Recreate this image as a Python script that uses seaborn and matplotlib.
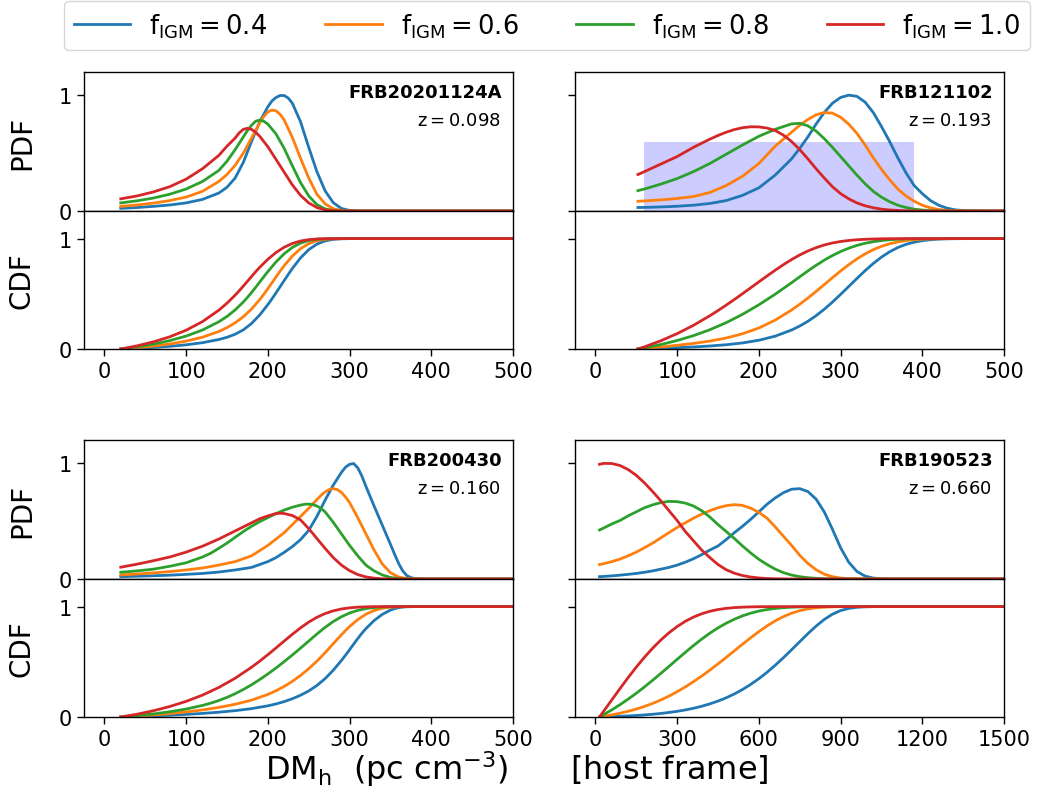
import numpy as np
import matplotlib
matplotlib.use("Agg")
import matplotlib.pyplot as plt
import seaborn as sns

plt.rcParams["mathtext.default"] = "regular"
plt.rcParams["font.family"] = ["DejaVu Sans"]
plt.rcParams["axes.linewidth"] = 1.0

# ---------------------------------------------------------------- data
F_IGM = [0.4, 0.6, 0.8, 1.0]
COLORS = ["#1f77b4", "#ff7f0e", "#2ca02c", "#d62728"]

# FRB20201124A, z = 0.098  (normalised PDF of host DM, one curve per f_IGM)
XA_04 = [20, 40, 60, 80, 100, 120, 140, 150, 160, 170, 180, 190, 200, 205,
         210, 215, 220, 225, 230, 240, 250, 260, 270, 280, 290, 300, 310, 500]
PA_04 = [0.023, 0.03, 0.04, 0.052, 0.07, 0.1, 0.155, 0.205, 0.285, 0.42, 0.6,
         0.77, 0.9, 0.95, 0.98, 0.997, 0.997, 0.975, 0.93, 0.77, 0.55, 0.34,
         0.175, 0.072, 0.022, 0.005, 0.0, 0.0]
XA_06 = [20, 40, 60, 80, 100, 120, 140, 150, 160, 170, 180, 190, 195, 200,
         205, 210, 215, 220, 230, 240, 250, 260, 270, 280, 290, 300, 500]
PA_06 = [0.04, 0.052, 0.068, 0.09, 0.12, 0.17, 0.255, 0.315, 0.395, 0.5, 0.63,
         0.76, 0.815, 0.855, 0.872, 0.865, 0.835, 0.785, 0.635, 0.455, 0.285,
         0.145, 0.062, 0.02, 0.004, 0.0, 0.0]
XA_08 = [20, 40, 60, 80, 100, 120, 140, 150, 160, 170, 175, 180, 185, 190,
         195, 200, 210, 220, 230, 240, 250, 260, 270, 280, 290, 500]
PA_08 = [0.07, 0.088, 0.112, 0.145, 0.19, 0.255, 0.35, 0.43, 0.53, 0.64,
         0.695, 0.74, 0.775, 0.785, 0.775, 0.75, 0.665, 0.54, 0.39, 0.245,
         0.13, 0.055, 0.018, 0.004, 0.0, 0.0]
XA_10 = [20, 40, 60, 80, 100, 120, 140, 150, 160, 165, 170, 175, 180, 185,
         190, 200, 210, 220, 230, 240, 250, 260, 270, 280, 290, 500]
PA_10 = [0.105, 0.13, 0.165, 0.21, 0.275, 0.365, 0.48, 0.56, 0.63, 0.675,
         0.705, 0.714, 0.705, 0.68, 0.645, 0.555, 0.445, 0.335, 0.225, 0.135,
         0.07, 0.03, 0.01, 0.002, 0.0, 0.0]

# FRB121102, z = 0.193
XB = [52, 60, 80, 100, 120, 140, 160, 180, 200, 220, 240, 250, 260, 270,
      280, 290, 300, 310, 320, 330, 340, 350, 360, 370, 380, 390, 400, 410,
      420, 430, 440, 450, 460, 500]
PB_04 = [0.03, 0.031, 0.035, 0.041, 0.05, 0.065, 0.09, 0.135, 0.2, 0.31,
         0.45, 0.54, 0.64, 0.75, 0.85, 0.93, 0.98, 1.0, 0.99, 0.94, 0.85,
         0.73, 0.6, 0.46, 0.33, 0.22, 0.15, 0.09, 0.05, 0.025, 0.01, 0.004,
         0.001, 0.0]
PB_06 = [0.084, 0.087, 0.096, 0.108, 0.125, 0.16, 0.22, 0.3, 0.41, 0.56,
         0.68, 0.74, 0.79, 0.83, 0.85, 0.845, 0.81, 0.75, 0.67, 0.57, 0.46,
         0.36, 0.27, 0.19, 0.13, 0.085, 0.05, 0.027, 0.013, 0.005, 0.002,
         0.0, 0.0, 0.0]
PB_08 = [0.176, 0.19, 0.232, 0.28, 0.34, 0.41, 0.49, 0.57, 0.645, 0.705,
         0.752, 0.757, 0.735, 0.69, 0.625, 0.55, 0.47, 0.39, 0.31, 0.235,
         0.17, 0.12, 0.08, 0.05, 0.03, 0.016, 0.008, 0.003, 0.001, 0.0,
         0.0, 0.0, 0.0, 0.0]
XB_10 = [52, 60, 80, 100, 120, 140, 150, 160, 170, 180, 190, 200, 210, 220,
         230, 240, 250, 260, 270, 280, 290, 300, 310, 320, 330, 340, 350, 360,
         370, 380, 390, 400, 500]
PB_10 = [0.315, 0.34, 0.405, 0.47, 0.55, 0.62, 0.652, 0.68, 0.703, 0.719,
         0.727, 0.726, 0.716, 0.695, 0.655, 0.6, 0.53, 0.45, 0.365, 0.285,
         0.21, 0.15, 0.105, 0.07, 0.045, 0.028, 0.016, 0.009, 0.005, 0.002,
         0.001, 0.0, 0.0]
SHADE_X = [60, 390]
SHADE_TOP = 0.6

# FRB200430, z = 0.160
XC_04 = [20, 40, 60, 80, 100, 120, 140, 160, 180, 200, 210, 220, 230, 240,
         250, 260, 270, 280, 290, 295, 300, 305, 310, 315, 320, 330, 340, 350,
         355, 360, 365, 370, 375, 380, 390, 500]
PC_04 = [0.02, 0.024, 0.028, 0.033, 0.04, 0.048, 0.06, 0.078, 0.1, 0.15,
         0.185, 0.23, 0.28, 0.34, 0.42, 0.54, 0.68, 0.81, 0.92, 0.965, 0.99,
         0.997, 0.96, 0.89, 0.8, 0.63, 0.465, 0.3, 0.215, 0.135, 0.07, 0.03,
         0.012, 0.004, 0.0, 0.0]
XC_06 = [20, 40, 60, 80, 100, 120, 140, 160, 180, 200, 210, 220, 230, 240,
         250, 260, 265, 270, 275, 280, 285, 290, 295, 300, 310, 320, 330, 340,
         350, 360, 370, 380, 390, 500]
PC_06 = [0.035, 0.043, 0.053, 0.064, 0.078, 0.095, 0.12, 0.15, 0.2, 0.29,
         0.345, 0.4, 0.47, 0.54, 0.61, 0.685, 0.722, 0.752, 0.772, 0.78, 0.772,
         0.748, 0.708, 0.66, 0.53, 0.39, 0.25, 0.13, 0.055, 0.017, 0.004,
         0.001, 0.0, 0.0]
XC_08 = [20, 40, 60, 80, 100, 120, 130, 140, 150, 160, 170, 180, 190, 200,
         210, 220, 230, 240, 245, 250, 255, 260, 265, 270, 280, 290, 300, 310,
         320, 330, 340, 350, 360, 370, 380, 500]
PC_08 = [0.058, 0.07, 0.085, 0.11, 0.14, 0.19, 0.222, 0.265, 0.31, 0.36,
         0.41, 0.455, 0.495, 0.53, 0.565, 0.595, 0.62, 0.638, 0.645, 0.647,
         0.643, 0.63, 0.61, 0.58, 0.49, 0.39, 0.29, 0.2, 0.12, 0.07, 0.035,
         0.013, 0.004, 0.001, 0.0, 0.0]
XC_10 = [20, 40, 60, 80, 100, 120, 140, 160, 180, 190, 200, 210, 215, 220,
         230, 240, 250, 260, 270, 280, 290, 300, 310, 320, 330, 340, 350, 500]
PC_10 = [0.102, 0.128, 0.158, 0.19, 0.232, 0.283, 0.345, 0.415, 0.485, 0.52,
         0.545, 0.565, 0.568, 0.565, 0.548, 0.51, 0.435, 0.35, 0.265, 0.185,
         0.12, 0.072, 0.038, 0.018, 0.007, 0.002, 0.0, 0.0]

# FRB190523, z = 0.660
XD = [15, 30, 60, 90, 120, 150, 180, 210, 240, 270, 300, 330, 360, 390, 420,
      450, 480, 510, 540, 570, 600, 630, 660, 690, 720, 750, 780, 810, 840,
      870, 900, 930, 960, 990, 1020, 1050, 1080, 1500]
PD_04 = [0.02, 0.022, 0.027, 0.033, 0.04, 0.048, 0.058, 0.07, 0.085, 0.1,
         0.12, 0.145, 0.175, 0.21, 0.25, 0.285, 0.34, 0.4, 0.455, 0.515,
         0.58, 0.645, 0.7, 0.745, 0.775, 0.78, 0.755, 0.69, 0.58, 0.43,
         0.27, 0.145, 0.065, 0.025, 0.008, 0.002, 0.0, 0.0]
PD_06 = [0.125, 0.132, 0.15, 0.172, 0.2, 0.232, 0.27, 0.31, 0.355, 0.4,
         0.445, 0.485, 0.525, 0.56, 0.59, 0.615, 0.633, 0.642, 0.635, 0.612,
         0.575, 0.525, 0.45, 0.37, 0.29, 0.205, 0.135, 0.08, 0.042, 0.02,
         0.008, 0.003, 0.001, 0.0, 0.0, 0.0, 0.0, 0.0]
PD_08 = [0.423, 0.44, 0.475, 0.505, 0.545, 0.58, 0.615, 0.64, 0.66, 0.67,
         0.668, 0.655, 0.63, 0.59, 0.535, 0.47, 0.41, 0.35, 0.285, 0.225,
         0.17, 0.125, 0.085, 0.055, 0.034, 0.02, 0.011, 0.006, 0.003, 0.001,
         0.0, 0.0, 0.0, 0.0, 0.0, 0.0, 0.0, 0.0]
PD_10 = [0.99, 0.998, 0.997, 0.98, 0.945, 0.895, 0.83, 0.755, 0.675, 0.59,
         0.505, 0.41, 0.33, 0.25, 0.185, 0.125, 0.08, 0.05, 0.03, 0.017,
         0.009, 0.004, 0.002, 0.001, 0.0, 0.0, 0.0, 0.0, 0.0, 0.0, 0.0, 0.0,
         0.0, 0.0, 0.0, 0.0, 0.0, 0.0]

NAMES = ["FRB20201124A", "FRB121102", "FRB200430", "FRB190523"]
REDSHIFTS = ["0.098", "0.193", "0.160", "0.660"]
X_TICKS_SHORT = [0, 100, 200, 300, 400, 500]
X_TICKS_LONG = [0, 300, 600, 900, 1200, 1500]

panels = [
    ([(XA_04, PA_04), (XA_06, PA_06), (XA_08, PA_08), (XA_10, PA_10)],
     X_TICKS_SHORT),
    ([(XB, PB_04), (XB, PB_06), (XB, PB_08), (XB_10, PB_10)], X_TICKS_SHORT),
    ([(XC_04, PC_04), (XC_06, PC_06), (XC_08, PC_08), (XC_10, PC_10)],
     X_TICKS_SHORT),
    ([(XD, PD_04), (XD, PD_06), (XD, PD_08), (XD, PD_10)], X_TICKS_LONG),
]


def cumulative(x, y):
    """Normalised cumulative distribution from a tabulated PDF."""
    x = np.asarray(x, float)
    y = np.asarray(y, float)
    c = np.concatenate([[0.0], np.cumsum(0.5 * (y[1:] + y[:-1]) * np.diff(x))])
    return c / c[-1]


# ---------------------------------------------------------------- layout
W, H = 1040, 812
fig = plt.figure(figsize=(W / 100, H / 100), dpi=100)

col_left = [84 / W, 575 / W]
ax_w = 429 / W
rows = [(73, 212, 350), (441, 580, 718)]   # pdf top, split, cdf bottom (px)

TICK_FS = 15
for i, (curves, xticks) in enumerate(panels):
    r, c = divmod(i, 2)
    top, mid, bot = rows[r]
    ax_pdf = fig.add_axes([col_left[c], 1 - mid / H, ax_w, (mid - top) / H])
    ax_cdf = fig.add_axes([col_left[c], 1 - bot / H, ax_w, (bot - mid) / H],
                          sharex=ax_pdf)

    xmax = xticks[-1]
    xmin = -0.05 * xmax

    if i == 1:
        ax_pdf.fill_between(SHADE_X, 0, SHADE_TOP, color="b", alpha=0.2, lw=0)

    for (xs, pdf), col in zip(curves, COLORS):
        xs = np.asarray(xs, float)
        sns.lineplot(x=xs, y=np.asarray(pdf, float), ax=ax_pdf, color=col,
                     linewidth=2, estimator=None, legend=False)
        sns.lineplot(x=xs, y=cumulative(xs, pdf), ax=ax_cdf, color=col,
                     linewidth=2, estimator=None, legend=False)

    ax_pdf.set_xlim(xmin, xmax)
    ax_pdf.set_ylim(0, 1.2)
    ax_cdf.set_ylim(0, 1.25)
    ax_pdf.set_yticks([0, 1])
    ax_cdf.set_yticks([0, 1])
    ax_cdf.set_xticks(xticks)
    ax_pdf.tick_params(axis="x", bottom=False, labelbottom=False)
    for a in (ax_pdf, ax_cdf):
        a.tick_params(labelsize=TICK_FS, length=5, width=1.0)
        a.set_xlabel("")
        a.set_ylabel("")
    if c == 1:
        ax_pdf.tick_params(axis="y", labelleft=False)
        ax_cdf.tick_params(axis="y", labelleft=False)
    else:
        ax_pdf.set_ylabel("PDF", fontsize=20)
        ax_cdf.set_ylabel("CDF", fontsize=20)
        ax_pdf.yaxis.set_label_coords(-0.112, 0.5)
        ax_cdf.yaxis.set_label_coords(-0.112, 0.5)

    ax_pdf.text(0.975, 0.855, NAMES[i], transform=ax_pdf.transAxes,
                ha="right", va="center", fontsize=13, fontweight="bold")
    ax_pdf.text(0.972, 0.655, "$z = %s$" % REDSHIFTS[i],
                transform=ax_pdf.transAxes, ha="right", va="center",
                fontsize=13)

handles = [plt.Line2D([], [], color=c, lw=2) for c in COLORS]
labels = [r"$f_{IGM} = %.1f$" % f for f in F_IGM]
fig.legend(handles, labels, loc="upper center", ncol=4,
           bbox_to_anchor=(547 / W, 1 - 2 / H), borderaxespad=0,
           fontsize=18.5, handlelength=2.2, handletextpad=0.74,
           columnspacing=2.25)

fig.text(0.497, 1 - 780 / H,
         r"$DM_h$  (pc cm$^{-3}$)      [host frame]",
         ha="center", va="baseline", fontsize=23)

fig.savefig("out.png", dpi=100)
